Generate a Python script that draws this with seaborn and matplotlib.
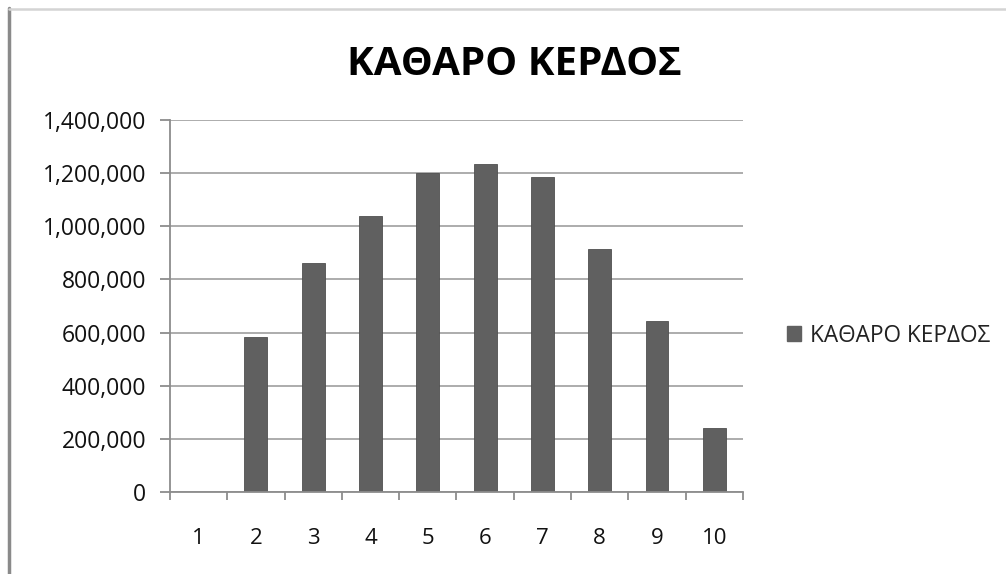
"""
Net profit bar chart (ΚΑΘΑΡΟ ΚΕΡΔΟΣ) per year
"""

import numpy as np
import pandas as pd
import matplotlib
matplotlib.use('Agg')
import matplotlib.pyplot as plt
from matplotlib.lines import Line2D
from matplotlib.ticker import FuncFormatter, FixedLocator
import seaborn as sns

# Data
years = ['1', '2', '3', '4', '5', '6', '7', '8', '9', '10']
net_profit = [0, 582000, 863000, 1039000, 1201000, 1234000, 1185000, 913000, 643000, 241000]
y_ticks = [0, 200000, 400000, 600000, 800000, 1000000, 1200000, 1400000]
series_name = 'ΚΑΘΑΡΟ ΚΕΡΔΟΣ'

df = pd.DataFrame({'year': years, 'profit': net_profit})

sns.set_style('white')
plt.rcParams['font.family'] = ['Open Sans', 'DejaVu Sans']

fig = plt.figure(figsize=(10.06, 5.74), dpi=100)
ax = fig.add_axes([0.169, 0.143, 0.5695, 0.648])

bar_color = '#606060'
sns.barplot(data=df, x='year', y='profit', color=bar_color, width=0.4,
            edgecolor='#505050', linewidth=0.6, saturation=1, ax=ax)

ax.set_xlim(-0.5, len(years) - 0.5)
ax.set_ylim(0, 1400000)
ax.set_yticks(y_ticks)
ax.yaxis.set_major_formatter(FuncFormatter(lambda v, p: f'{int(v):,}'))
ax.grid(axis='y', color='#a6a6a6', linewidth=1.3)
ax.set_axisbelow(True)
ax.set_xlabel('')
ax.set_ylabel('')

# spines
for side in ['top', 'right']:
    ax.spines[side].set_visible(False)
for side in ['left', 'bottom']:
    ax.spines[side].set_color('#8c8c8c')
    ax.spines[side].set_linewidth(1.3)

# category boundary ticks on x, labels at centres
ax.xaxis.set_minor_locator(FixedLocator(np.arange(-0.5, len(years), 1.0)))
ax.tick_params(axis='x', which='minor', length=6, width=1.3, color='#8c8c8c', direction='out')
ax.tick_params(axis='x', which='major', length=0, pad=26, labelsize=16, labelcolor='#111111')
ax.tick_params(axis='y', which='major', length=7, width=1.3, color='#8c8c8c', direction='out',
               pad=10, labelsize=16.5, labelcolor='#111111')
ax.tick_params(left=True, bottom=True)
ax.tick_params(axis='x', which='minor', bottom=True)

# title
fig.text(0.511, 0.888, series_name, ha='center', va='center',
         fontsize=29, fontweight='bold', color='black')

# legend on the right
handles = [plt.Rectangle((0, 0), 1, 1, facecolor=bar_color, edgecolor=bar_color)]
fig.legend(handles, [series_name], loc='center left', bbox_to_anchor=(0.762, 0.415),
           frameon=False, fontsize=16.3, handlelength=0.62, handleheight=0.62,
           handletextpad=0.4, labelcolor='#222222')

# chart frame (left and top edges only visible)
fig.add_artist(Line2D([0.0085, 0.0085], [0, 0.986], color='#8a8a8a', linewidth=2.5))
fig.add_artist(Line2D([0.0085, 1.0], [0.985, 0.985], color='#d4d4d4', linewidth=1.8))

fig.savefig('out.png', dpi=100)
